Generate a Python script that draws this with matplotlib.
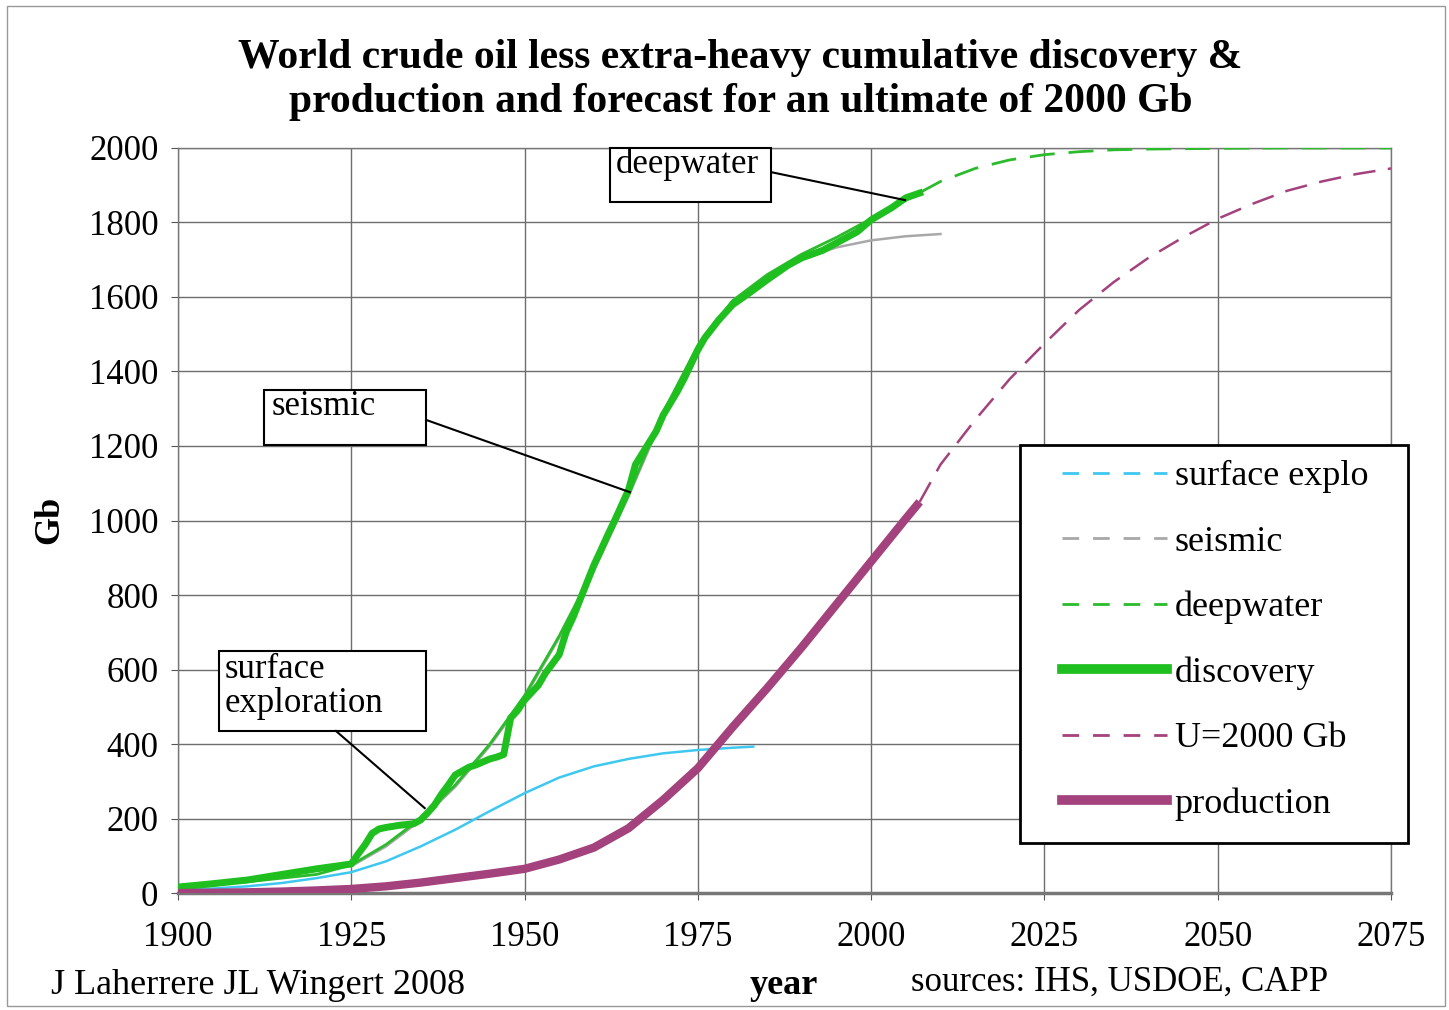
import matplotlib
matplotlib.use('Agg')
import matplotlib.pyplot as plt
from matplotlib.lines import Line2D
from matplotlib.patches import Rectangle

plt.rcParams['font.family'] = ['Liberation Serif', 'DejaVu Serif']

# cumulative discovery (jagged, backdated)
disc_years = [1900, 1905, 1910, 1915, 1920, 1925, 1926, 1927, 1928, 1929, 1930, 1932, 1934, 1935,
              1936, 1937, 1938, 1939, 1940, 1942, 1943, 1945, 1946, 1947, 1948, 1949, 1950, 1952,
              1953, 1955, 1956, 1957, 1958, 1960, 1961, 1962, 1963, 1965, 1966, 1968, 1969, 1970,
              1972, 1973, 1975, 1976, 1978, 1980, 1982, 1985, 1988, 1990, 1993, 1995, 1998, 2000,
              2003, 2005, 2007]
disc_vals = [16, 25, 35, 50, 65, 78, 105, 130, 160, 172, 176, 182, 186, 196,
             215, 236, 265, 290, 317, 338, 344, 360, 365, 372, 470, 490, 518, 558,
             590, 640, 700, 740, 787, 880, 920, 961, 1000, 1082, 1150, 1210, 1240, 1283,
             1345, 1380, 1458, 1490, 1538, 1579, 1605, 1646, 1685, 1705, 1725, 1745, 1775, 1807,
             1840, 1866, 1879]

# fitted models
fit_years = [1900, 1910, 1920, 1925, 1930, 1935, 1940, 1945, 1950, 1955, 1960, 1965,
             1970, 1975, 1980, 1985, 1990, 1995, 2000, 2005, 2007]
deep_fit = [20, 30, 50, 75, 130, 200, 290, 400, 530, 690, 870, 1070,
            1290, 1470, 1590, 1660, 1715, 1760, 1810, 1860, 1880]
deep_fc_years = [2007, 2010, 2015, 2020, 2025, 2030, 2035, 2040, 2050, 2060, 2075]
deep_fc = [1880, 1910, 1945, 1968, 1982, 1990, 1995, 1997, 1999, 2000, 2000]

seis_years = [1925, 1930, 1935, 1940, 1945, 1950, 1955, 1960, 1965, 1970, 1975, 1980,
              1985, 1990, 1995, 2000, 2005, 2010]
seis_vals = [72, 125, 195, 285, 395, 525, 685, 865, 1065, 1280, 1465, 1585,
             1655, 1703, 1733, 1752, 1763, 1769]

surf_years = [1900, 1905, 1910, 1915, 1920, 1925, 1930, 1935, 1940, 1945, 1950, 1955,
              1960, 1965, 1970, 1975, 1980, 1983]
surf_vals = [8, 12, 18, 27, 40, 56, 85, 125, 170, 220, 268, 310,
             340, 360, 375, 384, 390, 393]

prod_years = [1900, 1905, 1910, 1915, 1920, 1925, 1930, 1935, 1940, 1945, 1950, 1955,
              1960, 1965, 1970, 1975, 1980, 1985, 1990, 1995, 2000, 2005, 2007]
prod_vals = [0, 1, 2, 4, 7, 11, 18, 28, 40, 52, 65, 90,
             122, 174, 250, 335, 445, 550, 660, 775, 890, 1005, 1050]

u_years = [2007, 2010, 2015, 2020, 2025, 2030, 2035, 2040, 2045, 2050, 2055, 2060,
           2065, 2070, 2075]
u_vals = [1050, 1150, 1270, 1380, 1475, 1565, 1640, 1705, 1760, 1810, 1850, 1885,
          1910, 1930, 1945]

green = '#1fbf1f'
green_thin = '#2cbb2c'
purple = '#a3427c'
cyan = '#3ec8f0'
grey = '#a8a8a8'

fig = plt.figure(figsize=(14.49, 10.10), dpi=100)
ax = fig.add_axes([0.1228, 0.1158, 0.8372, 0.7377])

ax.plot(surf_years, surf_vals, color=cyan, lw=1.8, zorder=3)
ax.plot(seis_years, seis_vals, color=grey, lw=1.8, zorder=3)
ax.plot(fit_years, deep_fit, color=green_thin, lw=2, zorder=4)
ax.plot(deep_fc_years, deep_fc, color=green_thin, lw=2, dashes=(9, 5), zorder=4)
ax.plot(disc_years, disc_vals, color=green, lw=5, zorder=5)
ax.plot(u_years, u_vals, color=purple, lw=1.8, dashes=(9, 5), zorder=4)
ax.plot(prod_years, prod_vals, color=purple, lw=6, zorder=5, solid_capstyle='butt')

ax.set_xlim(1900, 2075)
ax.set_ylim(0, 2000)
ax.set_xticks(range(1900, 2076, 25))
ax.set_yticks(range(0, 2001, 200))
ax.grid(True, color='#6e6e6e', lw=1)
ax.set_axisbelow(True)
for s in ['top', 'right', 'left']:
    ax.spines[s].set_color('#777777')
    ax.spines[s].set_linewidth(1)
ax.spines['bottom'].set_color('#777777')
ax.spines['bottom'].set_linewidth(2.5)
ax.tick_params(axis='both', labelsize=25, colors='#555555', labelcolor='black', length=5)
ax.tick_params(axis='x', pad=15)
ax.tick_params(axis='y', pad=9)

fig.text(0.511, 0.921, 'World crude oil less extra-heavy cumulative discovery &\n'
         'production and forecast for an ultimate of 2000 Gb',
         ha='center', va='center', fontsize=30, fontweight='bold', linespacing=1.2)
fig.text(0.034, 0.485, 'Gb', rotation=90, ha='center', va='center', fontsize=26, fontweight='bold')
fig.text(0.541, 0.024, 'year', ha='center', va='center', fontsize=26, fontweight='bold')
fig.text(0.035, 0.024, 'J Laherrere JL Wingert 2008', ha='left', va='center', fontsize=26)
fig.text(0.629, 0.027, 'sources: IHS, USDOE, CAPP', ha='left', va='center', fontsize=25)


def callout(label, box, text_xy, line):
    x0, y0, x1, y1 = box
    ax.add_patch(Rectangle((x0, y0), x1 - x0, y1 - y0, facecolor='white', edgecolor='black',
                           lw=1.5, zorder=6, clip_on=False))
    ax.text(text_xy[0], text_xy[1], label, fontsize=25, ha='left', va='center',
            zorder=7, linespacing=1.05)
    ax.plot(line[0], line[1], color='black', lw=1.5, zorder=6, clip_on=False)


callout('deepwater', (1962.3, 1855, 1985.6, 2000), (1963.2, 1955),
        ([1985.6, 2004.9], [1935, 1860]))
callout('seismic', (1912.4, 1203, 1935.8, 1350), (1913.5, 1305),
        ([1935.8, 1965.2], [1270, 1076]))
callout('surface\nexploration', (1905.9, 435, 1935.8, 650), (1906.7, 555),
        ([1922.8, 1935.6], [435, 228]))

# legend frame drawn separately (Excel-style padding)
fig.patches.append(Rectangle((1020 / 1449, 1 - 843 / 1010), 388 / 1449, 398 / 1010,
                             transform=fig.transFigure, facecolor='white',
                             edgecolor='black', lw=2, zorder=5))

handles = [
    Line2D([], [], color=cyan, lw=2, dashes=(6, 5)),
    Line2D([], [], color=grey, lw=2, dashes=(6, 5)),
    Line2D([], [], color=green_thin, lw=2, dashes=(6, 5)),
    Line2D([], [], color=green, lw=7),
    Line2D([], [], color=purple, lw=2, dashes=(6, 5)),
    Line2D([], [], color=purple, lw=7),
]
labels = ['surface explo', 'seismic', 'deepwater', 'discovery', 'U=2000 Gb', 'production']
leg = fig.legend(handles, labels, loc='center left', bbox_to_anchor=(1062 / 1449, 1 - 640.5 / 1010),
                 fontsize=26, frameon=False, handlelength=2.9,
                 handletextpad=0.22, labelspacing=0.89, borderpad=0, borderaxespad=0)
leg.set_zorder(10)

fig.patches.append(Rectangle((0.005, 0.004), 0.992, 0.99, transform=fig.transFigure,
                             fill=False, edgecolor='#999999', lw=1))

fig.savefig('out.png', dpi=100)
